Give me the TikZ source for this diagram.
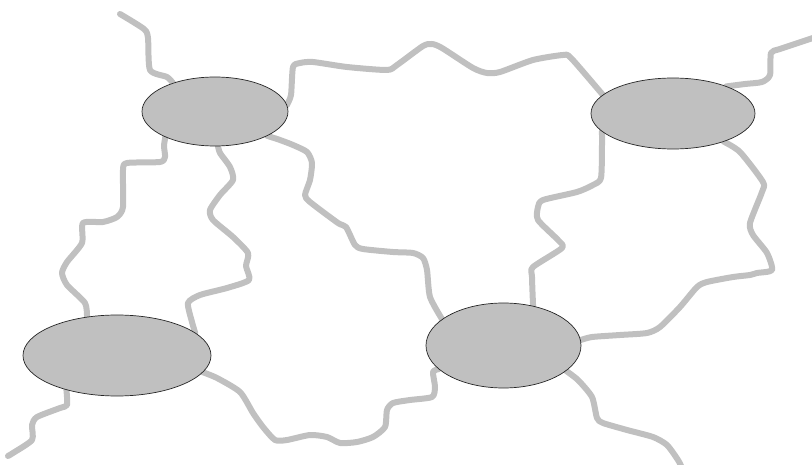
\documentclass[tikz,border=0pt]{standalone}
\usetikzlibrary{shapes.geometric,backgrounds}
\definecolor{silver}{RGB}{192,192,192}
\tikzset{
  blob/.style={ellipse, draw=black!85, line width=0.7pt, fill=silver, inner sep=0pt, outer sep=0pt},
  wire/.style={draw=silver, line width=6pt, line cap=round, line join=round}
}
\begin{document}
\begin{tikzpicture}[x=1pt,y=-1pt]
\useasboundingbox (0,0) rectangle (812,465);
\clip (0,0) rectangle (812,465);
\node[blob, minimum width=146pt, minimum height=69pt] (tl) at (215,111.5) {};
\node[blob, minimum width=164pt, minimum height=71pt] (tr) at (673,113.5) {};
\node[blob, minimum width=188pt, minimum height=81pt] (bl) at (117,355.5) {};
\node[blob, minimum width=155pt, minimum height=85pt] (br) at (503.5,345.5) {};
\begin{scope}[on background layer]
% top of tl to edge
\draw[wire] plot[smooth, tension=0.4] coordinates {(tl.146) (167,77) (150,70) (148,38) (144,29) (120,14)};
% tl to tr across the top
\draw[wire] plot[smooth, tension=0.4] coordinates {(tl.5) (291,95) (293,67) (300,63) (313,62) (347,67) (387,70) (397,65) (423,46) (432,44) (442,48) (473,68) (487,73) (500,72) (533,60) (563,55) (571,58) (603,95) (tr.165)};
% tr to right edge
\draw[wire] plot[smooth, tension=0.4] coordinates {(tr.27) (745,84) (762,82) (770,75) (771,53) (780,49) (816,37)};
% tl to bl (left)
\draw[wire] plot[smooth, tension=0.4] coordinates {(tl.207) (164,146) (165,157) (160,162) (127,163) (123,170) (123,207) (117,217) (103,222) (83,223) (82,243) (67,262) (62,273) (67,285) (85,303) (bl.128)};
% tl to bl (middle)
\draw[wire] plot[smooth, tension=0.4] coordinates {(tl.-85) (220,153) (230,167) (233,180) (220,195) (210,210) (213,220) (233,237) (248,253) (246,266) (249,280) (227,288) (200,295) (188,303) (192,322) (bl.16)};
% tl to br
\draw[wire] plot[smooth, tension=0.4] coordinates {(tl.-25) (280,140) (293,145) (307,152) (312,163) (310,180) (305,195) (310,202) (338,223) (346,227) (355,245) (363,249) (393,252) (413,253) (423,258) (427,270) (430,297) (br.157)};
% tr to br (left)
\draw[wire] plot[smooth, tension=0.4] coordinates {(tr.194) (602,145) (601,178) (593,185) (577,192) (543,200) (538,207) (538,220) (558,240) (562,248) (533,267) (532,277) (br.53)};
% tr to br (right)
\draw[wire] plot[smooth, tension=0.4] coordinates {(tr.-29) (740,152) (763,182) (762,192) (750,223) (753,235) (767,253) (772,270) (757,273) (750,275) (733,277) (707,282) (697,287) (680,307) (660,327) (647,333) (620,335) (592,337) (br.4)};
% bl to br along the bottom
\draw[wire] plot[smooth, tension=0.4] coordinates {(bl.-11.5) (217,378) (240,392) (253,413) (263,427) (275,440) (287,440) (310,435) (327,437) (340,443) (357,442) (373,437) (385,427) (387,410) (393,403) (410,400) (432,397) (435,387) (433,372) (br.200)};
% bl to lower-left edge
\draw[wire] plot[smooth, tension=0.4] coordinates {(bl.214) (67,405) (60,408) (37,417) (32,425) (32,440) (13,453) (8,456)};
% br to bottom edge
\draw[wire] plot[smooth, tension=0.4] coordinates {(br.-22) (578,380) (592,397) (597,418) (603,423) (627,430) (653,437) (667,445) (678,460) (682,468)};
\end{scope}
\end{tikzpicture}
\end{document}
